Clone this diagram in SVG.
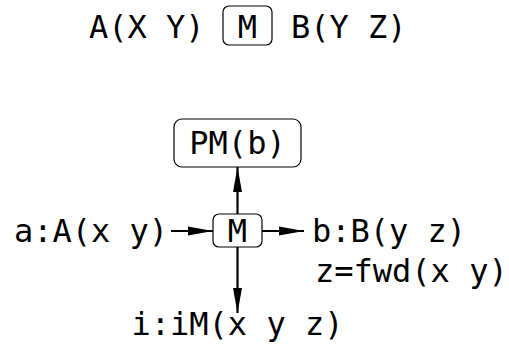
<svg xmlns="http://www.w3.org/2000/svg" width="509" height="356" viewBox="0 0 509 356">
<defs>
<style>
text{font-family:"DejaVu Sans Mono",monospace;font-size:32px;fill:#000}
.box{fill:#fff;stroke:#000;stroke-width:1.2}
.conn{stroke:#000;stroke-width:2.2;fill:none;marker-end:url(#ah)}
</style>
<marker id="ah" markerUnits="userSpaceOnUse" markerWidth="25" markerHeight="10" refX="25" refY="5" orient="auto">
<path d="M0,0.5 L25,5 L0,9.5 z" fill="#000"/>
</marker>
</defs>
<rect width="509" height="356" fill="#fff"/>
<g id="header">
<text x="89" y="38">A(X Y)</text>
<rect class="box" x="223" y="6" width="49" height="39" rx="6"/>
<text x="247.5" y="38" text-anchor="middle">M</text>
<text x="291" y="38">B(Y Z)</text>
</g>
<g id="connectors">
<line class="conn" x1="171" y1="231" x2="213" y2="231"/>
<line class="conn" x1="262" y1="231" x2="304" y2="231"/>
<line class="conn" x1="237.5" y1="214" x2="237.5" y2="167"/>
<line class="conn" x1="237.5" y1="247" x2="237.5" y2="313"/>
</g>
<g id="node-M">
<rect class="box" x="213" y="214" width="49" height="33" rx="6"/>
<text x="237.5" y="242" text-anchor="middle">M</text>
</g>
<g id="node-PM">
<rect class="box" x="174" y="119" width="127" height="48" rx="8"/>
<text x="237.5" y="154" text-anchor="middle">PM(b)</text>
</g>
<g id="node-a">
<text x="14" y="242">a:A(x y)</text>
</g>
<g id="node-b">
<text x="312" y="242">b:B(y z)</text>
<text x="315" y="282">z=fwd(x y)</text>
</g>
<g id="node-i">
<text x="237.5" y="335" text-anchor="middle">i:iM(x y z)</text>
</g>
</svg>
